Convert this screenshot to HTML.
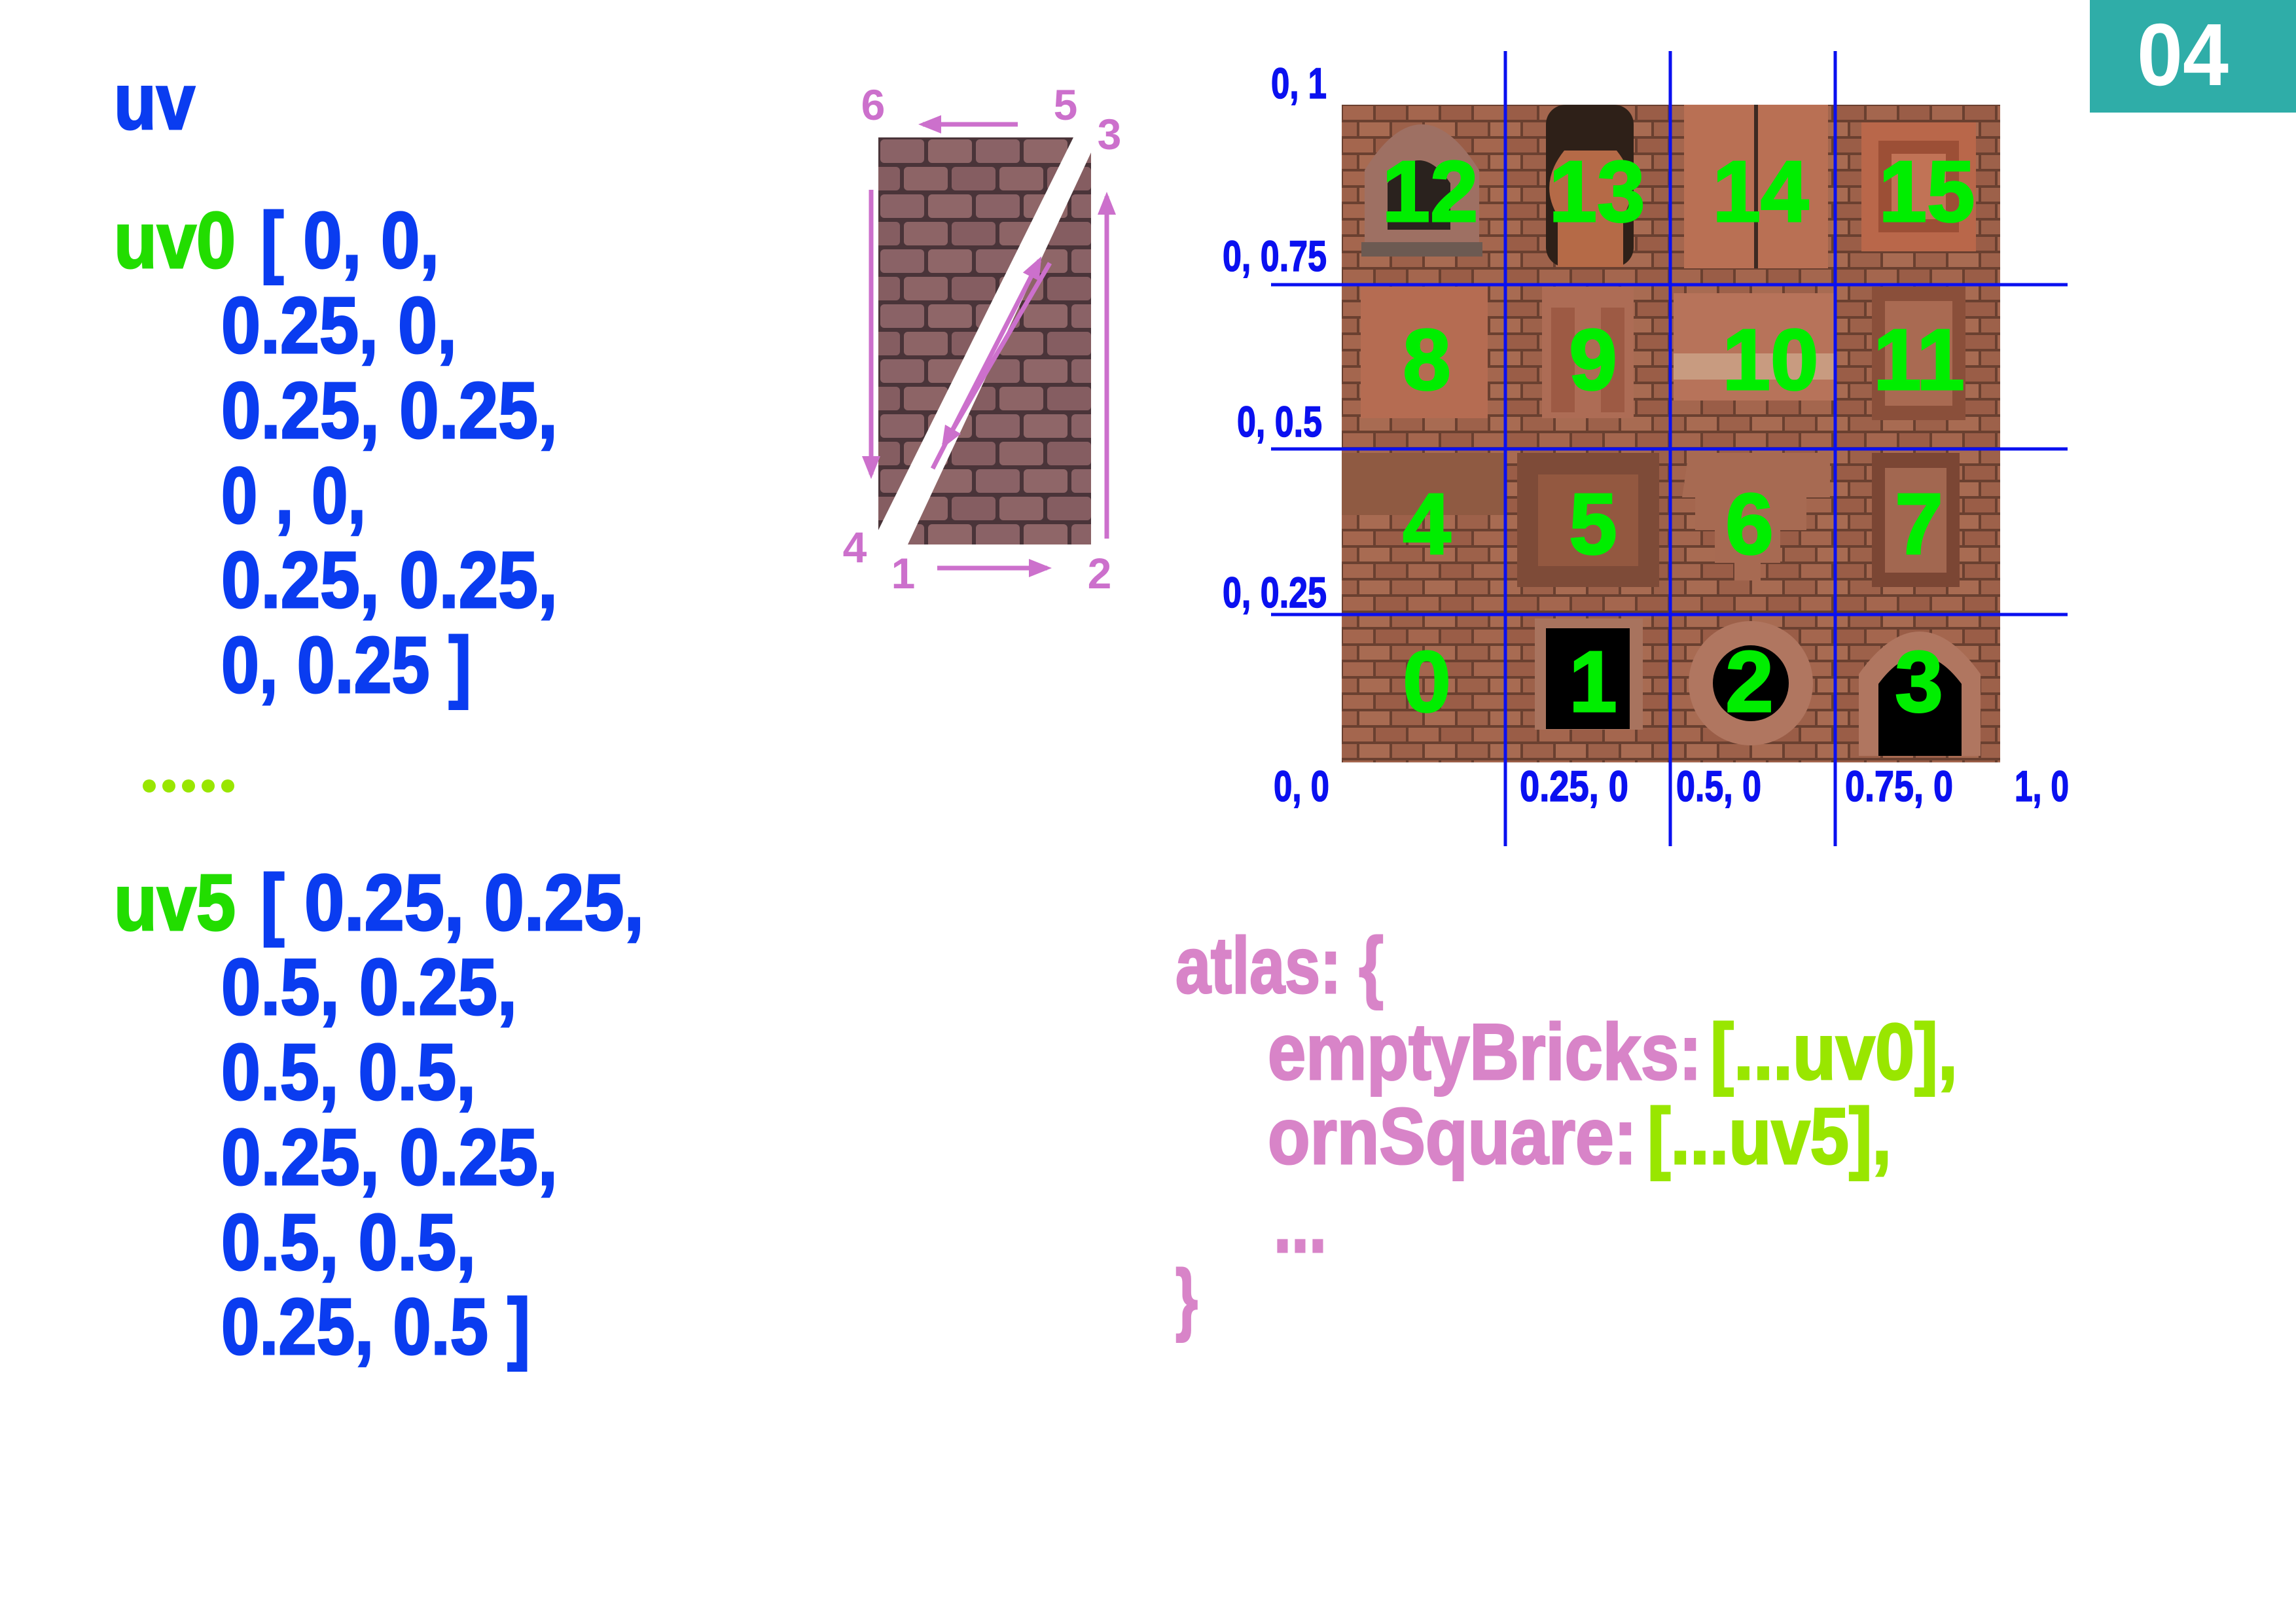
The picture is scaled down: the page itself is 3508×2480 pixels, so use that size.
<!DOCTYPE html>
<html><head><meta charset="utf-8"><style>
html,body{margin:0;padding:0;background:#fff;}
svg{display:block;}
.b{font-family:"Liberation Sans Narrow","Liberation Sans",sans-serif;font-weight:bold;}
</style></head><body>
<svg width="3508" height="2480" viewBox="0 0 3508 2480" xmlns="http://www.w3.org/2000/svg">
<defs>
<pattern id="bricksA" x="2050" y="160" width="100" height="50" patternUnits="userSpaceOnUse">
<rect width="100" height="50" fill="#6a4030"/>
<rect x="2" y="2" width="46" height="21" fill="#a4664e"/>
<rect x="52" y="2" width="46" height="21" fill="#9a5d47"/>
<rect x="-23" y="27" width="46" height="21" fill="#9d614a"/>
<rect x="27" y="27" width="46" height="21" fill="#a86b52"/>
<rect x="77" y="27" width="46" height="21" fill="#9d614a"/>
</pattern>
<pattern id="bricksB" x="1342" y="210" width="146" height="84" patternUnits="userSpaceOnUse">
<rect width="146" height="84" fill="#4a3439"/>
<rect x="3" y="3" width="67" height="36" rx="6" fill="#8a6266"/>
<rect x="76" y="3" width="67" height="36" rx="6" fill="#8f6668"/>
<rect x="-34" y="45" width="67" height="36" rx="6" fill="#855d61"/>
<rect x="39" y="45" width="67" height="36" rx="6" fill="#8d6466"/>
<rect x="112" y="45" width="67" height="36" rx="6" fill="#855d61"/>
</pattern>
<marker id="ah" markerWidth="5" markerHeight="4" refX="4" refY="2" orient="auto" markerUnits="strokeWidth">
<path d="M0,0 L5,2 L0,4 z" fill="#cc70cc"/>
</marker>
</defs>

<rect x="3193" y="0" width="315" height="172" fill="#2fada8"/>
<text x="3335" y="130" class="b" font-size="135" fill="#fff" text-anchor="middle" textLength="140" lengthAdjust="spacingAndGlyphs">04</text>

<g class="b" font-size="122" fill="#0a3cf0" stroke="#0a3cf0" stroke-width="3">
<text x="174" y="197" textLength="124" lengthAdjust="spacingAndGlyphs">uv</text>
<text x="174" y="409" fill="#22dd00" stroke="#22dd00" textLength="186" lengthAdjust="spacingAndGlyphs">uv0</text>
<text x="398" y="409" textLength="273" lengthAdjust="spacingAndGlyphs">[ 0, 0,</text>
<text x="338" y="539" textLength="360" lengthAdjust="spacingAndGlyphs">0.25, 0,</text>
<text x="338" y="669" textLength="514" lengthAdjust="spacingAndGlyphs">0.25, 0.25,</text>
<text x="338" y="799" textLength="221" lengthAdjust="spacingAndGlyphs">0 , 0,</text>
<text x="338" y="928" textLength="514" lengthAdjust="spacingAndGlyphs">0.25, 0.25,</text>
<text x="338" y="1058" textLength="382" lengthAdjust="spacingAndGlyphs">0, 0.25 ]</text>
<g fill="#99e600" stroke="none">
<circle cx="228" cy="1201" r="10"/><circle cx="258" cy="1201" r="10"/><circle cx="288" cy="1201" r="10"/><circle cx="318" cy="1201" r="10"/><circle cx="348" cy="1201" r="10"/>
</g>
<text x="174" y="1421" fill="#22dd00" stroke="#22dd00" textLength="186" lengthAdjust="spacingAndGlyphs">uv5</text>
<text x="398" y="1421" textLength="586" lengthAdjust="spacingAndGlyphs">[ 0.25, 0.25,</text>
<text x="338" y="1550" textLength="452" lengthAdjust="spacingAndGlyphs">0.5, 0.25,</text>
<text x="338" y="1680" textLength="389" lengthAdjust="spacingAndGlyphs">0.5, 0.5,</text>
<text x="338" y="1810" textLength="514" lengthAdjust="spacingAndGlyphs">0.25, 0.25,</text>
<text x="338" y="1940" textLength="389" lengthAdjust="spacingAndGlyphs">0.5, 0.5,</text>
<text x="338" y="2069" textLength="472" lengthAdjust="spacingAndGlyphs">0.25, 0.5 ]</text>
</g>

<g>
<polygon points="1342,210 1640,210 1342,810" fill="url(#bricksB)"/>
<polygon points="1667,233 1667,832 1387,832" fill="url(#bricksB)"/>
</g>
<g stroke="#cc70cc" stroke-width="7" fill="none">
<line x1="1555" y1="190" x2="1410" y2="190" marker-end="url(#ah)"/>
<line x1="1331" y1="290" x2="1331" y2="725" marker-end="url(#ah)"/>
<line x1="1432" y1="868" x2="1600" y2="868" marker-end="url(#ah)"/>
<line x1="1691" y1="823" x2="1691" y2="300" marker-end="url(#ah)"/>
<line x1="1425" y1="716" x2="1588" y2="398" marker-end="url(#ah)"/>
<line x1="1604" y1="402" x2="1442" y2="680" marker-end="url(#ah)"/>
</g>
<g class="b" font-size="66" fill="#cc70cc" text-anchor="middle">
<text x="1334" y="183">6</text>
<text x="1628" y="183">5</text>
<text x="1695" y="228">3</text>
<text x="1306" y="859">4</text>
<text x="1380" y="899">1</text>
<text x="1680" y="899">2</text>
</g>

<g>
<rect x="2050" y="160" width="1006" height="1005" fill="url(#bricksA)"/>
<path d="M2085,391 L2085,260 Q2172,120 2260,260 L2260,391 z" fill="#9e7063"/>
<path d="M2120,351 L2120,280 Q2168,210 2216,280 L2216,351 z" fill="#2a221e"/>
<rect x="2080" y="370" width="185" height="22" fill="#6c5a52"/>
<rect x="2362" y="160" width="134" height="248" rx="30" fill="#2e2018"/>
<path d="M2380,408 L2380,330 Q2350,280 2390,230 L2470,230 Q2510,280 2480,330 L2480,408 z" fill="#b56a47"/>
<rect x="2573" y="160" width="220" height="250" fill="#b97054"/>
<rect x="2680" y="160" width="6" height="250" fill="#3c2a22"/>
<rect x="2844" y="187" width="175" height="197" fill="#b9674a"/>
<rect x="2870" y="215" width="123" height="140" fill="#9c4f36"/>
<rect x="2890" y="235" width="83" height="100" fill="#c17356"/>
<rect x="2079" y="438" width="194" height="201" fill="#b56c52"/>
<rect x="2356" y="438" width="140" height="201" fill="#ad6c55"/>
<rect x="2370" y="470" width="36" height="160" fill="#9d5a44"/>
<rect x="2446" y="470" width="36" height="160" fill="#9d5a44"/>
<rect x="2557" y="448" width="246" height="164" fill="#b7735a"/>
<rect x="2557" y="540" width="246" height="40" fill="#d4b69a" opacity="0.6"/>
<rect x="2860" y="438" width="143" height="204" fill="#8a4f3a"/>
<rect x="2880" y="460" width="103" height="160" fill="#a96a52"/>
<rect x="2050" y="692" width="249" height="95" fill="#8f5a42"/>
<rect x="2318" y="692" width="217" height="205" fill="#7e4b38"/>
<rect x="2350" y="725" width="153" height="140" fill="#935840"/>
<path d="M2580,692 L2796,692 L2796,760 L2760,760 L2760,810 L2720,810 L2720,860 L2690,860 L2690,887 L2650,887 L2650,860 L2620,860 L2620,810 L2590,810 L2590,760 L2570,760 z" fill="#a76a52"/>
<rect x="2860" y="692" width="134" height="205" fill="#7b4634"/>
<rect x="2880" y="715" width="94" height="160" fill="#a26750"/>
<rect x="2345" y="945" width="165" height="170" fill="#a8735e"/>
<rect x="2362" y="960" width="128" height="154" fill="#000"/>
<circle cx="2675" cy="1044" r="95" fill="#b07660"/>
<circle cx="2675" cy="1044" r="58" fill="#000"/>
<path d="M2840,1155 L2840,1030 Q2933,900 3026,1030 L3026,1155 z" fill="#b07660"/>
<path d="M2870,1155 L2870,1045 Q2933,960 2997,1045 L2997,1155 z" fill="#000"/>
</g>
<g class="b" font-size="132" fill="#00ee00" stroke="#00ee00" stroke-width="3" text-anchor="middle">
<text x="2185" y="338">12</text><text x="2440" y="338">13</text><text x="2690" y="338">14</text><text x="2944" y="338">15</text>
<text x="2180" y="595">8</text><text x="2434" y="595">9</text><text x="2705" y="595">10</text><text x="2932" y="595">11</text>
<text x="2180" y="846">4</text><text x="2434" y="846">5</text><text x="2673" y="846">6</text><text x="2932" y="846">7</text>
<text x="2180" y="1087">0</text><text x="2434" y="1087">1</text><text x="2673" y="1087">2</text><text x="2932" y="1087">3</text>
</g>
<g stroke="#0a10f0" stroke-width="5">
<line x1="2300" y1="78" x2="2300" y2="1293"/>
<line x1="2552" y1="78" x2="2552" y2="1293"/>
<line x1="2804" y1="78" x2="2804" y2="1293"/>
<line x1="1942" y1="435" x2="3159" y2="435"/>
<line x1="1942" y1="686" x2="3159" y2="686"/>
<line x1="1942" y1="939" x2="3159" y2="939"/>
</g>
<g class="b" font-size="66" fill="#0a10f0" stroke="#0a10f0" stroke-width="1.5">
<text x="1942" y="150" textLength="85" lengthAdjust="spacingAndGlyphs">0, 1</text>
<text x="1868" y="414" textLength="159" lengthAdjust="spacingAndGlyphs">0, 0.75</text>
<text x="1890" y="667" textLength="130" lengthAdjust="spacingAndGlyphs">0, 0.5</text>
<text x="1868" y="928" textLength="159" lengthAdjust="spacingAndGlyphs">0, 0.25</text>
<text x="1946" y="1224" textLength="85" lengthAdjust="spacingAndGlyphs">0, 0</text>
<text x="2322" y="1224" textLength="166" lengthAdjust="spacingAndGlyphs">0.25, 0</text>
<text x="2561" y="1224" textLength="130" lengthAdjust="spacingAndGlyphs">0.5, 0</text>
<text x="2819" y="1224" textLength="165" lengthAdjust="spacingAndGlyphs">0.75, 0</text>
<text x="3078" y="1224" textLength="83" lengthAdjust="spacingAndGlyphs">1, 0</text>
</g>

<g class="b" font-size="122" fill="#d884c8" stroke="#d884c8" stroke-width="3">
<text x="1796" y="1517" textLength="318" lengthAdjust="spacingAndGlyphs">atlas: {</text>
<text x="1937" y="1649" textLength="663" lengthAdjust="spacingAndGlyphs">emptyBricks:</text>
<text x="2613" y="1649" fill="#99e600" stroke="#99e600" textLength="378" lengthAdjust="spacingAndGlyphs">[...uv0],</text>
<text x="1937" y="1778" textLength="564" lengthAdjust="spacingAndGlyphs">ornSquare:</text>
<text x="2517" y="1778" fill="#99e600" stroke="#99e600" textLength="373" lengthAdjust="spacingAndGlyphs">[...uv5],</text>
<text x="1946" y="1913" textLength="81" lengthAdjust="spacingAndGlyphs">...</text>
<text x="1796" y="2025" textLength="34" lengthAdjust="spacingAndGlyphs">}</text>
</g>
</svg>
</body></html>
